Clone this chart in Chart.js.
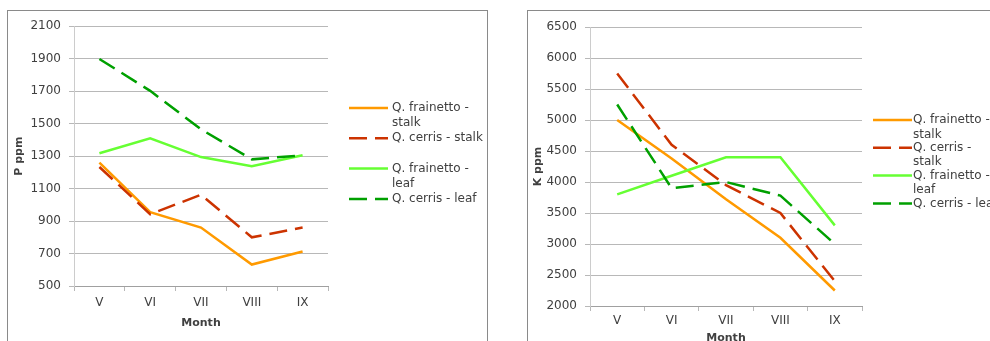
<!DOCTYPE html>
<html>
<head>
<meta charset="utf-8">
<script src="https://cdn.jsdelivr.net/npm/chart.js@4"></script>
<style>
  html, body { margin: 0; padding: 0; background: #fff; width: 990px; height: 341px; overflow: hidden; }
  body { position: relative; }
  .frame { position: absolute; border: 1px solid #8a8a8a; background: #fff; }
  canvas { position: absolute; }
</style>
</head>
<body>
<div class="frame" style="left:7px; top:10px; width:479px; height:400px;"></div>
<div class="frame" style="left:527px; top:10px; width:500px; height:400px;"></div>
<canvas id="pChart" width="478" height="330" style="left:8px; top:11px;"></canvas>
<canvas id="kChart" width="480" height="345" style="left:528px; top:11px;"></canvas>
<script>
// ---- data ----
const months = ['V', 'VI', 'VII', 'VIII', 'IX'];
const seriesNames = ['Q. frainetto - stalk', 'Q. cerris - stalk', 'Q. frainetto - leaf', 'Q. cerris - leaf'];

const pTicks = [500, 700, 900, 1100, 1300, 1500, 1700, 1900, 2100];
const pFrainettoStalk = [1260, 955, 860, 632, 712];
const pCerrisStalk = [1233, 942, 1062, 800, 860];
const pFrainettoLeaf = [1318, 1410, 1294, 1238, 1305];
const pCerrisLeaf = [1898, 1702, 1465, 1280, 1305];

const kTicks = [2000, 2500, 3000, 3500, 4000, 4500, 5000, 5500, 6000, 6500];
const kFrainettoStalk = [5000, 4380, 3720, 3100, 2250];
const kCerrisStalk = [5750, 4600, 3950, 3500, 2400];
const kFrainettoLeaf = [3800, 4100, 4400, 4400, 3300];
const kCerrisLeaf = [5250, 3900, 4000, 3780, 3000];

// ---- styles ----
const seriesColors = ['#ff9a00', '#cc3300', '#66ff33', '#00a000'];
const seriesDash = [[], [18, 8], [], [18, 8]];
const textColor = '#404040';
const gridColor = '#b8b8b8';

Chart.defaults.font.family = "'DejaVu Sans', sans-serif";
Chart.defaults.font.size = 12;
Chart.defaults.color = textColor;

function wrapText(ctx, text, maxWidth) {
  const words = text.split(' ');
  const lines = [];
  let cur = '';
  for (const w of words) {
    const test = cur ? cur + ' ' + w : w;
    if (cur && ctx.measureText(test).width > maxWidth) {
      lines.push(cur);
      cur = w;
    } else {
      cur = test;
    }
  }
  if (cur) lines.push(cur);
  return lines;
}

const sideLegend = {
  id: 'sideLegend',
  afterDraw(chart, args, opts) {
    const ctx = chart.ctx;
    ctx.save();
    ctx.font = opts.font;
    ctx.textBaseline = 'middle';
    ctx.textAlign = 'left';
    chart.data.datasets.forEach((ds, i) => {
      const y0 = opts.y + i * opts.itemGap;
      ctx.beginPath();
      ctx.strokeStyle = ds.borderColor;
      ctx.lineWidth = ds.borderWidth;
      ctx.setLineDash(ds.borderDash || []);
      ctx.moveTo(opts.x, y0);
      ctx.lineTo(opts.x + opts.lineLen, y0);
      ctx.stroke();
      ctx.setLineDash([]);
      ctx.fillStyle = opts.color;
      const lines = wrapText(ctx, ds.label, opts.maxWidth);
      lines.forEach((t, k) => ctx.fillText(t, opts.x + opts.lineLen + opts.textGap, y0 + k * opts.lineHeight));
    });
    ctx.restore();
  }
};

function makeDatasets(arrays) {
  return arrays.map((arr, i) => ({
    label: seriesNames[i],
    data: arr,
    borderColor: seriesColors[i],
    backgroundColor: seriesColors[i],
    borderWidth: 2.5,
    borderDash: seriesDash[i],
    pointRadius: 0,
    pointHoverRadius: 0,
    tension: 0,
    fill: false,
    order: 3 - i
  }));
}

function makeChart(id, arrays, ticksArr, yTitle, L) {
  return new Chart(document.getElementById(id), {
    type: 'line',
    data: { labels: months, datasets: makeDatasets(arrays) },
    plugins: [sideLegend],
    options: {
      responsive: false,
      animation: false,
      events: [],
      layout: { padding: { left: 0, top: L.top, right: L.right, bottom: 0 } },
      plugins: {
        legend: { display: false },
        tooltip: { enabled: false },
        sideLegend: L.legend
      },
      scales: {
        x: {
          type: 'category',
          offset: true,
          grid: { offset: true, drawOnChartArea: false, drawTicks: true, tickLength: 5, color: gridColor },
          border: { display: true, color: '#a0a0a0' },
          ticks: { padding: L.xTickPad, color: textColor, font: { size: 12 }, maxRotation: 0, autoSkip: false },
          title: { display: true, text: 'Month', color: textColor, font: { size: 11, weight: 'bold' }, padding: { top: 0, bottom: L.xTitlePad } },
          afterFit: (s) => { s.height = L.xHeight; }
        },
        y: {
          min: ticksArr[0],
          max: ticksArr[ticksArr.length - 1],
          afterBuildTicks: (s) => { s.ticks = ticksArr.map(v => ({ value: v })); },
          grid: { color: gridColor, drawTicks: true, tickLength: 5 },
          border: { display: true, color: '#cccccc' },
          ticks: { padding: L.yTickPad, color: textColor, font: { size: 12 }, callback: (v) => String(v) },
          title: { display: true, text: yTitle, color: textColor, font: { size: 11, weight: 'bold' }, padding: { top: L.yTitlePad, bottom: 0 } },
          afterFit: (s) => { s.width = L.yWidth; }
        }
      }
    }
  });
}

makeChart('pChart', [pFrainettoStalk, pCerrisStalk, pFrainettoLeaf, pCerrisLeaf], pTicks, 'P ppm', {
  top: 13, right: 158, xHeight: 55, yWidth: 66,
  xTickPad: 5, xTitlePad: 11, yTickPad: 8, yTitlePad: 5,
  legend: { x: 341, y: 97, lineLen: 39, textGap: 4, itemGap: 30.3, lineHeight: 15, maxWidth: 95,
            font: "12px 'DejaVu Sans', sans-serif", color: textColor }
});

makeChart('kChart', [kFrainettoStalk, kCerrisStalk, kFrainettoLeaf, kCerrisLeaf], kTicks, 'K ppm', {
  top: 16, right: 146, xHeight: 50, yWidth: 62,
  xTickPad: 3, xTitlePad: 11, yTickPad: 8, yTitlePad: 4,
  legend: { x: 345, y: 109, lineLen: 39, textGap: 1, itemGap: 27.8, lineHeight: 14.5, maxWidth: 88,
            font: "12px 'DejaVu Sans', sans-serif", color: textColor }
});
</script>
</body>
</html>
